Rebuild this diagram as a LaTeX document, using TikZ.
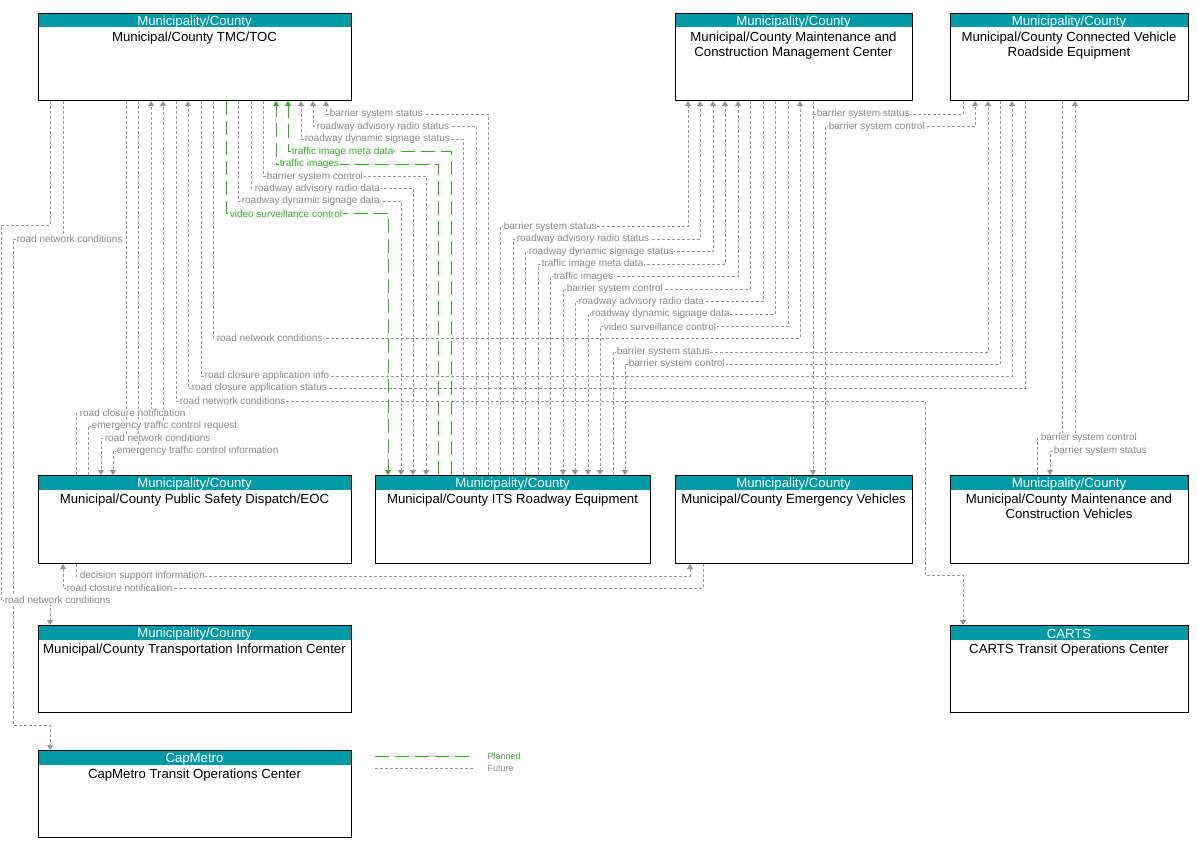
\documentclass[tikz,border=0pt]{standalone}
\usepackage{fontspec}
\setmainfont{Liberation Sans}
\usetikzlibrary{arrows.meta}
\definecolor{hdr}{RGB}{0,153,166}
\definecolor{fgray}{RGB}{150,150,150}
\definecolor{lgray}{RGB}{135,135,135}
\definecolor{pgreen}{RGB}{56,170,40}
\tikzset{
  fut/.style={draw=fgray, line width=0.9pt, dash pattern=on 3pt off 2pt},
  plan/.style={draw=pgreen, line width=0.9pt, dash pattern=on 14pt off 6pt},
  tip/.style={-{Triangle[width=6pt,length=5pt]}},
  flab/.style={font=\fontsize{10}{12}\selectfont, text=lgray, fill=white, inner sep=0.6pt, anchor=west},
  plab/.style={flab, text=pgreen},
  hdrtext/.style={font=\fontsize{13.2}{15}\selectfont, text=white, inner sep=0pt},
  ttltext/.style={font=\fontsize{13.2}{15}\selectfont, align=center, inner sep=0pt, anchor=north},
  sysframe/.style={draw=black, line width=1pt, inner sep=0pt, anchor=north west},
  legtext/.style={font=\fontsize{9}{11}\selectfont, inner sep=0.5pt, anchor=west},
}
\newcommand\mysysbox[7]{%
  \fill[hdr] (#2,#3) rectangle (#4,{#3+14.5});
  \node[sysframe, minimum width={(#4-#2)*1pt}, minimum height={(#5-#3)*1pt}] (#1) at (#2,#3) {};
  \node[hdrtext] (#1-h) at ({(#2+#4)/2},{#3+9.3}) {#6};
  \node[ttltext] (#1-t) at ({(#2+#4)/2},{#3+18.8}) {#7};
}
\begin{document}
\begin{tikzpicture}[x=1pt,y=-1pt]
\useasboundingbox (0,0) rectangle (1198,851);
% ---------- boxes ----------
\mysysbox{tmc}{38}{13}{351}{100}{Municipality/County}{Municipal/County TMC/TOC}
\mysysbox{mm}{675}{13}{912}{100}{Municipality/County}{Municipal/County Maintenance and\\Construction Management Center}
\mysysbox{rse}{950}{13}{1188}{100}{Municipality/County}{Municipal/County Connected Vehicle\\Roadside Equipment}
\mysysbox{psd}{38}{475}{351}{563}{Municipality/County}{Municipal/County Public Safety Dispatch/EOC}
\mysysbox{its}{375}{475}{650}{563}{Municipality/County}{Municipal/County ITS Roadway Equipment}
\mysysbox{ev}{675}{475}{912}{563}{Municipality/County}{Municipal/County Emergency Vehicles}
\mysysbox{mcv}{950}{475}{1188}{563}{Municipality/County}{Municipal/County Maintenance and\\Construction Vehicles}
\mysysbox{tic}{38}{625}{351}{712}{Municipality/County}{Municipal/County Transportation Information Center}
\mysysbox{carts}{950}{625}{1188}{712}{CARTS}{CARTS Transit Operations Center}
\mysysbox{capm}{38}{750}{351}{837}{CapMetro}{CapMetro Transit Operations Center}

% ---------- connectors ----------
% TMC -> TIC / CapMetro
\draw[fut,tip] (tmc.south -| 50,0) |- (1,225) |- (50,600) -- (tic.north -| 50,0);
\draw[fut,tip] (tmc.south -| 63,0) |- (13,239) |- (50,725) -- (capm.north -| 50,0);
% PSD <-> TMC
\draw[fut,tip] (psd.north -| 76,0) |- (151,413) -- (tmc.south -| 151,0);
\draw[fut,tip] (psd.north -| 88,0) |- (163,426) -- (tmc.south -| 163,0);
\draw[fut,tip] (tmc.south -| 126,0) |- (101,438) -- (psd.north -| 101,0);
\draw[fut,tip] (tmc.south -| 138,0) |- (113,451) -- (psd.north -| 113,0);
% TMC -> CARTS
\draw[fut,tip] (tmc.south -| 176,0) |- (925,401) |- (963,575) -- (carts.north -| 963,0);
% TMC <-> CV RSE
\draw[fut,tip] (rse.south -| 1025,0) |- (188,388) -- (tmc.south -| 188,0);
\draw[fut,tip] (tmc.south -| 201,0) |- (1012,376) -- (rse.south -| 1012,0);
% TMC -> MM
\draw[fut,tip] (tmc.south -| 213,0) |- (800,338) -- (mm.south -| 800,0);
% TMC <-> ITS
\draw[plan,tip] (tmc.south -| 226,0) |- (388,213.5) -- (its.north -| 388,0);
\draw[fut,tip] (tmc.south -| 238,0) |- (401,201) -- (its.north -| 401,0);
\draw[fut,tip] (tmc.south -| 251,0) |- (413,188.5) -- (its.north -| 413,0);
\draw[fut,tip] (tmc.south -| 263,0) |- (426,176.5) -- (its.north -| 426,0);
\draw[plan,tip] (its.north -| 438,0) |- (276,164) -- (tmc.south -| 276,0);
\draw[plan,tip] (its.north -| 451,0) |- (288,151.5) -- (tmc.south -| 288,0);
\draw[fut,tip] (its.north -| 463,0) |- (301,139) -- (tmc.south -| 301,0);
\draw[fut,tip] (its.north -| 476,0) |- (313,126.5) -- (tmc.south -| 313,0);
\draw[fut,tip] (its.north -| 488,0) |- (326,114) -- (tmc.south -| 326,0);
% ITS <-> MM
\draw[fut,tip] (its.north -| 500,0) |- (688,226.5) -- (mm.south -| 688,0);
\draw[fut,tip] (its.north -| 513,0) |- (700,239) -- (mm.south -| 700,0);
\draw[fut,tip] (its.north -| 525,0) |- (713,251.5) -- (mm.south -| 713,0);
\draw[fut,tip] (its.north -| 538,0) |- (725,264) -- (mm.south -| 725,0);
\draw[fut,tip] (its.north -| 550,0) |- (738,276.5) -- (mm.south -| 738,0);
\draw[fut,tip] (mm.south -| 750,0) |- (563,289) -- (its.north -| 563,0);
\draw[fut,tip] (mm.south -| 763,0) |- (575,301.5) -- (its.north -| 575,0);
\draw[fut,tip] (mm.south -| 775,0) |- (588,314) -- (its.north -| 588,0);
\draw[fut,tip] (mm.south -| 788,0) |- (600,326.5) -- (its.north -| 600,0);
% ITS <-> CV RSE
\draw[fut,tip] (its.north -| 613,0) |- (988,352) -- (rse.south -| 988,0);
\draw[fut,tip] (rse.south -| 1000,0) |- (625,364) -- (its.north -| 625,0);
% CV RSE <-> EV
\draw[fut] (mm.south -| 813,0) -- (813,114);
\draw[fut,tip] (rse.south -| 963,0) |- (813,114) -- (ev.north -| 813,0);
\draw[fut,tip] (ev.north -| 825,0) |- (975,126.5) -- (rse.south -| 975,0);
% CV RSE <-> MCV
\draw[fut,tip] (mcv.north -| 1037,0) |- (1075,438) -- (rse.south -| 1075,0);
\draw[fut,tip] (rse.south -| 1062,0) |- (1050,451) -- (mcv.north -| 1050,0);
% PSD <-> EV
\draw[fut,tip] (psd.south -| 76,0) |- (690,576) -- (ev.south -| 690,0);
\draw[fut,tip] (ev.south -| 703,0) |- (63,588) -- (psd.south -| 63,0);

% ---------- labels ----------
\node[flab] (l01) at (4,600) {road network conditions};
\node[flab] (l02) at (16,239) {road network conditions};
\node[flab] (l03) at (79,413) {road closure notification};
\node[flab] (l04) at (91,426) {emergency traffic control request};
\node[flab] (l05) at (104,438) {road network conditions};
\node[flab] (l06) at (116,451) {emergency traffic control information};
\node[flab] (l07) at (179,401) {road network conditions};
\node[flab] (l08) at (191,388) {road closure application status};
\node[flab] (l09) at (204,376) {road closure application info};
\node[flab] (l10) at (216,338) {road network conditions};
\node[plab] (l11) at (229,213.5) {video surveillance control};
\node[flab] (l12) at (241,201) {roadway dynamic signage data};
\node[flab] (l13) at (254,188.5) {roadway advisory radio data};
\node[flab] (l14) at (266,176.5) {barrier system control};
\node[plab] (l15) at (279,164) {traffic images};
\node[plab] (l16) at (291,151.5) {traffic image meta data};
\node[flab] (l17) at (304,139) {roadway dynamic signage status};
\node[flab] (l18) at (316,126.5) {roadway advisory radio status};
\node[flab] (l19) at (329,114) {barrier system status};
\node[flab] (l20) at (503,226.5) {barrier system status};
\node[flab] (l21) at (516,239) {roadway advisory radio status};
\node[flab] (l22) at (528,251.5) {roadway dynamic signage status};
\node[flab] (l23) at (541,264) {traffic image meta data};
\node[flab] (l24) at (553,276.5) {traffic images};
\node[flab] (l25) at (566,289) {barrier system control};
\node[flab] (l26) at (578,301.5) {roadway advisory radio data};
\node[flab] (l27) at (591,314) {roadway dynamic signage data};
\node[flab] (l28) at (603,326.5) {video surveillance control};
\node[flab] (l29) at (616,352) {barrier system status};
\node[flab] (l30) at (628,364) {barrier system control};
\node[flab] (l31) at (816,114) {barrier system status};
\node[flab] (l32) at (828,126.5) {barrier system control};
\node[flab] (l33) at (1040,438) {barrier system control};
\node[flab] (l34) at (1053,451) {barrier system status};
\node[flab] (l35) at (79,576) {decision support information};
\node[flab] (l36) at (66,588) {road closure notification};

% ---------- legend ----------
\coordinate (lp1) at (375,756);
\coordinate (lp2) at (475,756);
\coordinate (lf1) at (375,768);
\coordinate (lf2) at (475,768);
\draw[plan] (lp1) -- (lp2);
\draw[fut] (lf1) -- (lf2);
\node[legtext, text=pgreen] (lgp) at (487,756) {Planned};
\node[legtext, text=lgray] (lgf) at (487,768) {Future};
\end{tikzpicture}
\end{document}
